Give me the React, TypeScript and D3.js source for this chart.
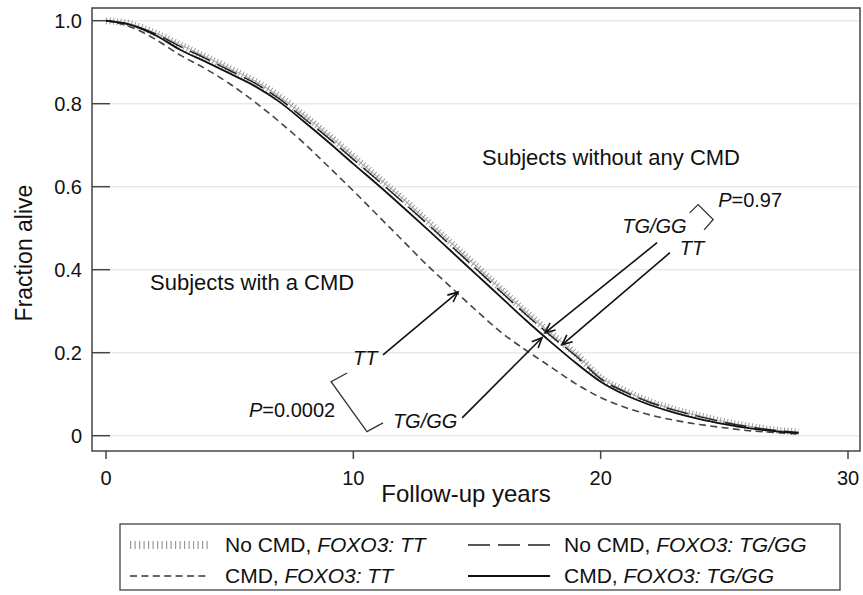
import React from "react";
import * as d3 from "d3";

// Follow-up years and survival fractions
const years = [0, 1, 2, 3, 4, 5, 6, 7, 8, 9, 10, 11, 12, 13, 14, 15, 16, 17, 18, 19, 20, 21, 22, 23, 24, 25, 26, 27, 28];
const noCmdTT = [1, 0.992, 0.97, 0.942, 0.914, 0.885, 0.855, 0.818, 0.772, 0.724, 0.673, 0.622, 0.571, 0.517, 0.462, 0.407, 0.352, 0.297, 0.246, 0.197, 0.14, 0.108, 0.082, 0.063, 0.048, 0.034, 0.023, 0.014, 0.009];
const noCmdTGGG = [1, 0.99, 0.968, 0.938, 0.91, 0.88, 0.85, 0.812, 0.765, 0.717, 0.666, 0.615, 0.563, 0.51, 0.455, 0.4, 0.345, 0.291, 0.24, 0.192, 0.137, 0.105, 0.08, 0.061, 0.046, 0.032, 0.021, 0.013, 0.008];
const cmdTT = [1, 0.985, 0.955, 0.917, 0.885, 0.848, 0.805, 0.757, 0.705, 0.648, 0.59, 0.53, 0.47, 0.41, 0.355, 0.3, 0.248, 0.205, 0.165, 0.125, 0.092, 0.068, 0.05, 0.037, 0.027, 0.019, 0.012, 0.008, 0.004];
const cmdTGGG = [1, 0.99, 0.965, 0.93, 0.902, 0.873, 0.843, 0.805, 0.757, 0.707, 0.655, 0.604, 0.551, 0.497, 0.442, 0.387, 0.332, 0.277, 0.225, 0.175, 0.13, 0.098, 0.074, 0.055, 0.04, 0.028, 0.018, 0.011, 0.006];

const xTicks = [0, 10, 20, 30];
const yTicks = [0, 0.2, 0.4, 0.6, 0.8, 1.0];
const yTickLabels = ["0", "0.2", "0.4", "0.6", "0.8", "1.0"];

const FONT = "'Liberation Sans', Arial, Helvetica, sans-serif";

// plot geometry
const box = { left: 92, top: 8, right: 860, bottom: 451 };
const x = d3.scaleLinear().domain([0, 30]).range([106, 848]);
const y = d3.scaleLinear().domain([0, 1]).range([435.7, 20.7]);

const line = d3
  .line<number>()
  .x((_, i) => x(years[i]))
  .y((d) => y(d))
  .curve(d3.curveMonotoneX);

// arrows in data units: [t0, s0, t1, s1]
const arrows = [
  [22.28, 0.465, 17.75, 0.248],
  [22.8, 0.441, 18.44, 0.219],
  [14.4, 0.043, 17.63, 0.236],
  [11.2, 0.195, 14.23, 0.346],
];

const arrowHead = (a: number[]) => {
  const x0 = x(a[0]), y0 = y(a[1]), x1 = x(a[2]), y1 = y(a[3]);
  const ang = Math.atan2(y1 - y0, x1 - x0);
  const L = 11, w = 0.42;
  const p1 = [x1 - L * Math.cos(ang - w), y1 - L * Math.sin(ang - w)];
  const p2 = [x1 - L * Math.cos(ang + w), y1 - L * Math.sin(ang + w)];
  return `M${p1[0]},${p1[1]}L${x1},${y1}L${p2[0]},${p2[1]}`;
};

// brackets, data units
const bracketNoCmd = [[23.6, 0.537], [23.94, 0.557], [24.55, 0.521], [24.18, 0.496]];
const bracketCmd = [[9.75, 0.151], [9.1, 0.13], [10.55, 0.01], [11.2, 0.031]];

const bracketPath = (pts: number[][]) =>
  d3.line<number[]>().x((p) => x(p[0])).y((p) => y(p[1]))(pts) as string;

export default function App() {
  return (
    <svg
      width={863}
      height={595}
      style={{ position: "absolute", left: 0, top: 0, background: "#fff" }}
      fontFamily={FONT}
    >
      {/* gridlines */}
      {yTicks.map((t) => (
        <line key={"g" + t} x1={110} x2={box.right} y1={y(t)} y2={y(t)} stroke="#e3ecec" strokeWidth={1.5} />
      ))}
      {/* plot box */}
      <rect
        x={box.left}
        y={box.top}
        width={box.right - box.left}
        height={box.bottom - box.top}
        fill="none"
        stroke="#444"
        strokeWidth={1.5}
      />
      {/* y ticks and labels */}
      {yTicks.map((t, i) => (
        <g key={"y" + t}>
          <line x1={box.left} x2={110} y1={y(t)} y2={y(t)} stroke="#444" strokeWidth={1.5} />
          <text x={82} y={y(t) + 7} textAnchor="end" fontSize={20} fill="#111">
            {yTickLabels[i]}
          </text>
        </g>
      ))}
      {/* x ticks and labels */}
      {xTicks.map((t) => (
        <g key={"x" + t}>
          <line x1={x(t)} x2={x(t)} y1={box.bottom} y2={box.bottom + 8} stroke="#444" strokeWidth={1.5} />
          <text x={x(t)} y={485} textAnchor="middle" fontSize={20} fill="#111">
            {t}
          </text>
        </g>
      ))}
      <text x={466} y={502} textAnchor="middle" fontSize={24} fill="#111">
        Follow-up years
      </text>
      <text transform="translate(32,253) rotate(-90)" textAnchor="middle" fontSize={23} fill="#111">
        Fraction alive
      </text>

      {/* curves */}
      <path d={line(noCmdTT) as string} fill="none" stroke="#bbb" strokeWidth={1.2} />
      <path d={line(noCmdTT) as string} fill="none" stroke="#999" strokeWidth={7} strokeDasharray="1 2.6" />
      <path d={line(noCmdTGGG) as string} fill="none" stroke="#222" strokeWidth={1.5} strokeDasharray="22 8" />
      <path d={line(cmdTT) as string} fill="none" stroke="#444" strokeWidth={1.6} strokeDasharray="7 4.4" />
      <path d={line(cmdTGGG) as string} fill="none" stroke="#111" strokeWidth={1.8} />

      {/* annotations */}
      <text x={482} y={165} fontSize={22} fill="#111">Subjects without any CMD</text>
      <text x={150} y={290} fontSize={22} fill="#111">Subjects with a CMD</text>

      {arrows.map((a, i) => (
        <g key={"a" + i} stroke="#111" strokeWidth={1.6} fill="none">
          <line x1={x(a[0])} y1={y(a[1])} x2={x(a[2])} y2={y(a[3])} />
          <path d={arrowHead(a)} />
        </g>
      ))}

      <path d={bracketPath(bracketNoCmd)} fill="none" stroke="#333" strokeWidth={1.3} />
      <path d={bracketPath(bracketCmd)} fill="none" stroke="#333" strokeWidth={1.3} />

      <text x={x(20.87)} y={y(0.489)} fontSize={20} fontStyle="italic" fill="#111">TG/GG</text>
      <text x={x(23.2)} y={y(0.435)} fontSize={20} fontStyle="italic" fill="#111">TT</text>
      <text x={x(24.75)} y={y(0.551)} fontSize={20} fill="#111">
        <tspan fontStyle="italic">P</tspan>=0.97
      </text>
      <text x={x(9.99)} y={y(0.17)} fontSize={20} fontStyle="italic" fill="#111">TT</text>
      <text x={x(11.6)} y={y(0.019)} fontSize={20} fontStyle="italic" fill="#111">TG/GG</text>
      <text x={x(5.78)} y={y(0.045)} fontSize={20} fill="#111">
        <tspan fontStyle="italic">P</tspan>=0.0002
      </text>

      {/* legend */}
      <rect x={120} y={524} width={720} height={66} fill="#fff" stroke="#444" strokeWidth={1.3} />
      <line x1={130} x2={208} y1={545} y2={545} stroke="#999" strokeWidth={8} strokeDasharray="1.2 3.3" />
      <text x={225} y={552} fontSize={21} fill="#111">
        No CMD, <tspan fontStyle="italic">FOXO3: TT</tspan>
      </text>
      <line x1={130} x2={208} y1={576} y2={576} stroke="#333" strokeWidth={1.5} strokeDasharray="7 4.4" />
      <text x={225} y={583} fontSize={21} fill="#111">
        CMD, <tspan fontStyle="italic">FOXO3: TT</tspan>
      </text>
      <line x1={468} x2={550} y1={545} y2={545} stroke="#222" strokeWidth={1.6} strokeDasharray="22 8" />
      <text x={564} y={552} fontSize={21} fill="#111">
        No CMD, <tspan fontStyle="italic">FOXO3: TG/GG</tspan>
      </text>
      <line x1={468} x2={550} y1={576} y2={576} stroke="#111" strokeWidth={1.8} />
      <text x={564} y={583} fontSize={21} fill="#111">
        CMD, <tspan fontStyle="italic">FOXO3: TG/GG</tspan>
      </text>
    </svg>
  );
}
